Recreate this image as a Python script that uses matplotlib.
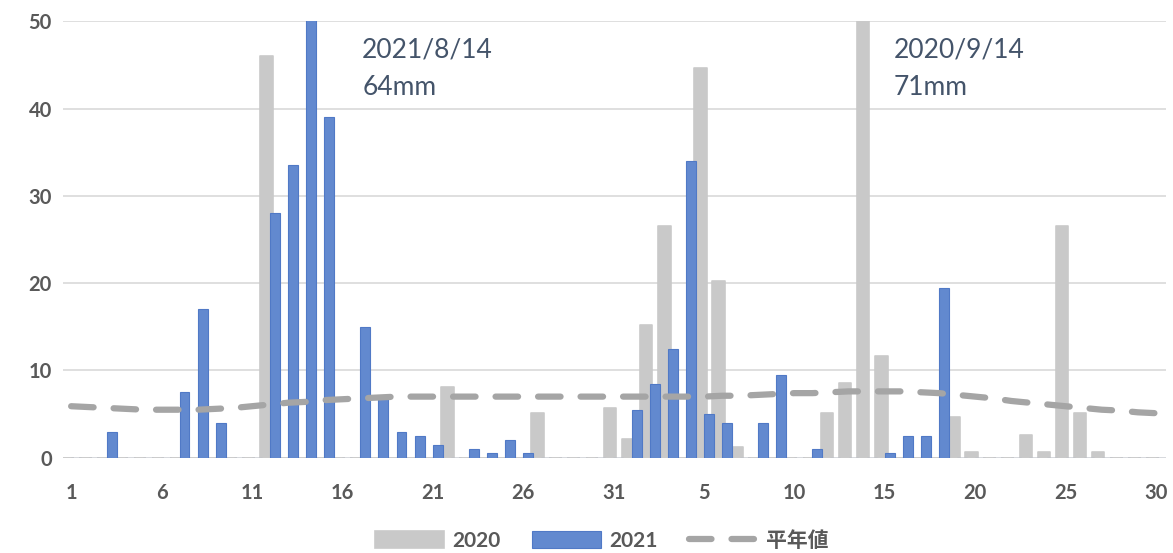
import matplotlib.pyplot as plt
import numpy as np

plt.rcParams['font.family'] = ['Lato', 'Noto Sans CJK JP', 'DejaVu Sans']

# 8/1 ~ 9/30 の日別降水量 (mm)
day_labels = [str(d) for d in range(1, 32)] + [str(d) for d in range(1, 31)]
tick_every = 5

rain_2020 = [0, 0, 0, 0, 0, 0, 0, 0, 0, 0,
             0, 46.0, 0, 0, 0, 0, 0, 0, 0, 0,
             0, 8.1, 0, 0, 0, 0, 5.1, 0, 0, 0, 5.7,
             2.1, 15.2, 26.6, 0, 44.6, 20.2, 1.2, 0, 0, 0,
             0, 5.1, 8.6, 71.0, 11.6, 0, 0, 0, 4.7, 0.6,
             0, 0, 2.6, 0.6, 26.6, 5.1, 0.6, 0, 0, 0]

rain_2021 = [0, 0, 3.0, 0, 0, 0, 7.5, 17.0, 4.0, 0,
             0, 28.0, 33.5, 64.0, 39.0, 0, 15.0, 6.8, 3.0, 2.5,
             1.5, 0, 1.0, 0.5, 2.0, 0.5, 0, 0, 0, 0, 0,
             5.5, 8.5, 12.5, 34.0, 5.0, 4.0, 0, 4.0, 9.5, 0,
             1.0, 0, 0, 0, 0.5, 2.5, 2.5, 19.5, 0, 0,
             0, 0, 0, 0, 0, 0, 0, 0, 0, 0]

normal = [5.9, 5.8, 5.7, 5.6, 5.5, 5.5, 5.5, 5.5, 5.6, 5.7,
          5.9, 6.1, 6.3, 6.4, 6.6, 6.7, 6.8, 6.9, 7.0, 7.0,
          7.0, 7.0, 7.0, 7.0, 7.0, 7.0, 7.0, 7.0, 7.0, 7.0, 7.0,
          7.0, 7.0, 7.0, 7.0, 7.0, 7.1, 7.1, 7.2, 7.3, 7.4,
          7.4, 7.5, 7.6, 7.6, 7.6, 7.6, 7.5, 7.4, 7.2, 7.0,
          6.8, 6.5, 6.3, 6.1, 5.9, 5.7, 5.5, 5.4, 5.2, 5.1]

notes = ['2021/8/14\n64mm', '2020/9/14\n71mm']
note_x = [17.1, 46.5]

x = np.arange(1, len(day_labels) + 1)

fig = plt.figure(figsize=(11.73, 5.53), dpi=100)
ax = fig.add_axes([0.0537, 0.1723, 0.9403, 0.7892])

b20 = ax.bar(x - 0.2, rain_2020, width=0.7, color='#C9C9C9', edgecolor='#C9C9C9',
             linewidth=1.2, joinstyle='round', label='2020', zorder=2)
b21 = ax.bar(x + 0.27, rain_2021, width=0.55, color='#6289CF', edgecolor='#5079C6',
             linewidth=0.8, label='2021', zorder=3)
ln, = ax.plot(x, normal, color='#A5A5A5', linewidth=4.5, dashes=(3.6, 3.2),
              dash_capstyle='round', label='平年値', zorder=4)

for t, nx in zip(notes, note_x):
    ax.text(nx, 48.1, t, fontsize=19, color='#44546A', va='top', ha='left',
            linespacing=1.6, zorder=5)

ax.set_xlim(0.55, 61.55)
ax.set_ylim(0, 50)
ax.set_yticks(range(0, 51, 10))
ax.set_xticks(x[::tick_every])
ax.set_xticklabels(day_labels[::tick_every])
ax.tick_params(length=0, labelsize=14.5, labelcolor='#595959', pad=8)
ax.tick_params(axis='x', pad=18)
for lab in ax.get_xticklabels() + ax.get_yticklabels():
    lab.set_fontweight('bold')

ax.grid(axis='y', color='#D9D9D9', linewidth=1.2, zorder=0)
ax.set_axisbelow(True)
for s in ax.spines.values():
    s.set_visible(False)

fig.legend([b20, b21, ln], ['2020', '2021', '平年値'],
           loc='lower center', bbox_to_anchor=(0.513, -0.03), ncol=3,
           frameon=False, handlelength=3.3, handleheight=0.85, columnspacing=1.5,
           handletextpad=0.4, prop={'size': 15, 'weight': 'bold'},
           labelcolor='#595959')

fig.savefig('out.png', dpi=100)
